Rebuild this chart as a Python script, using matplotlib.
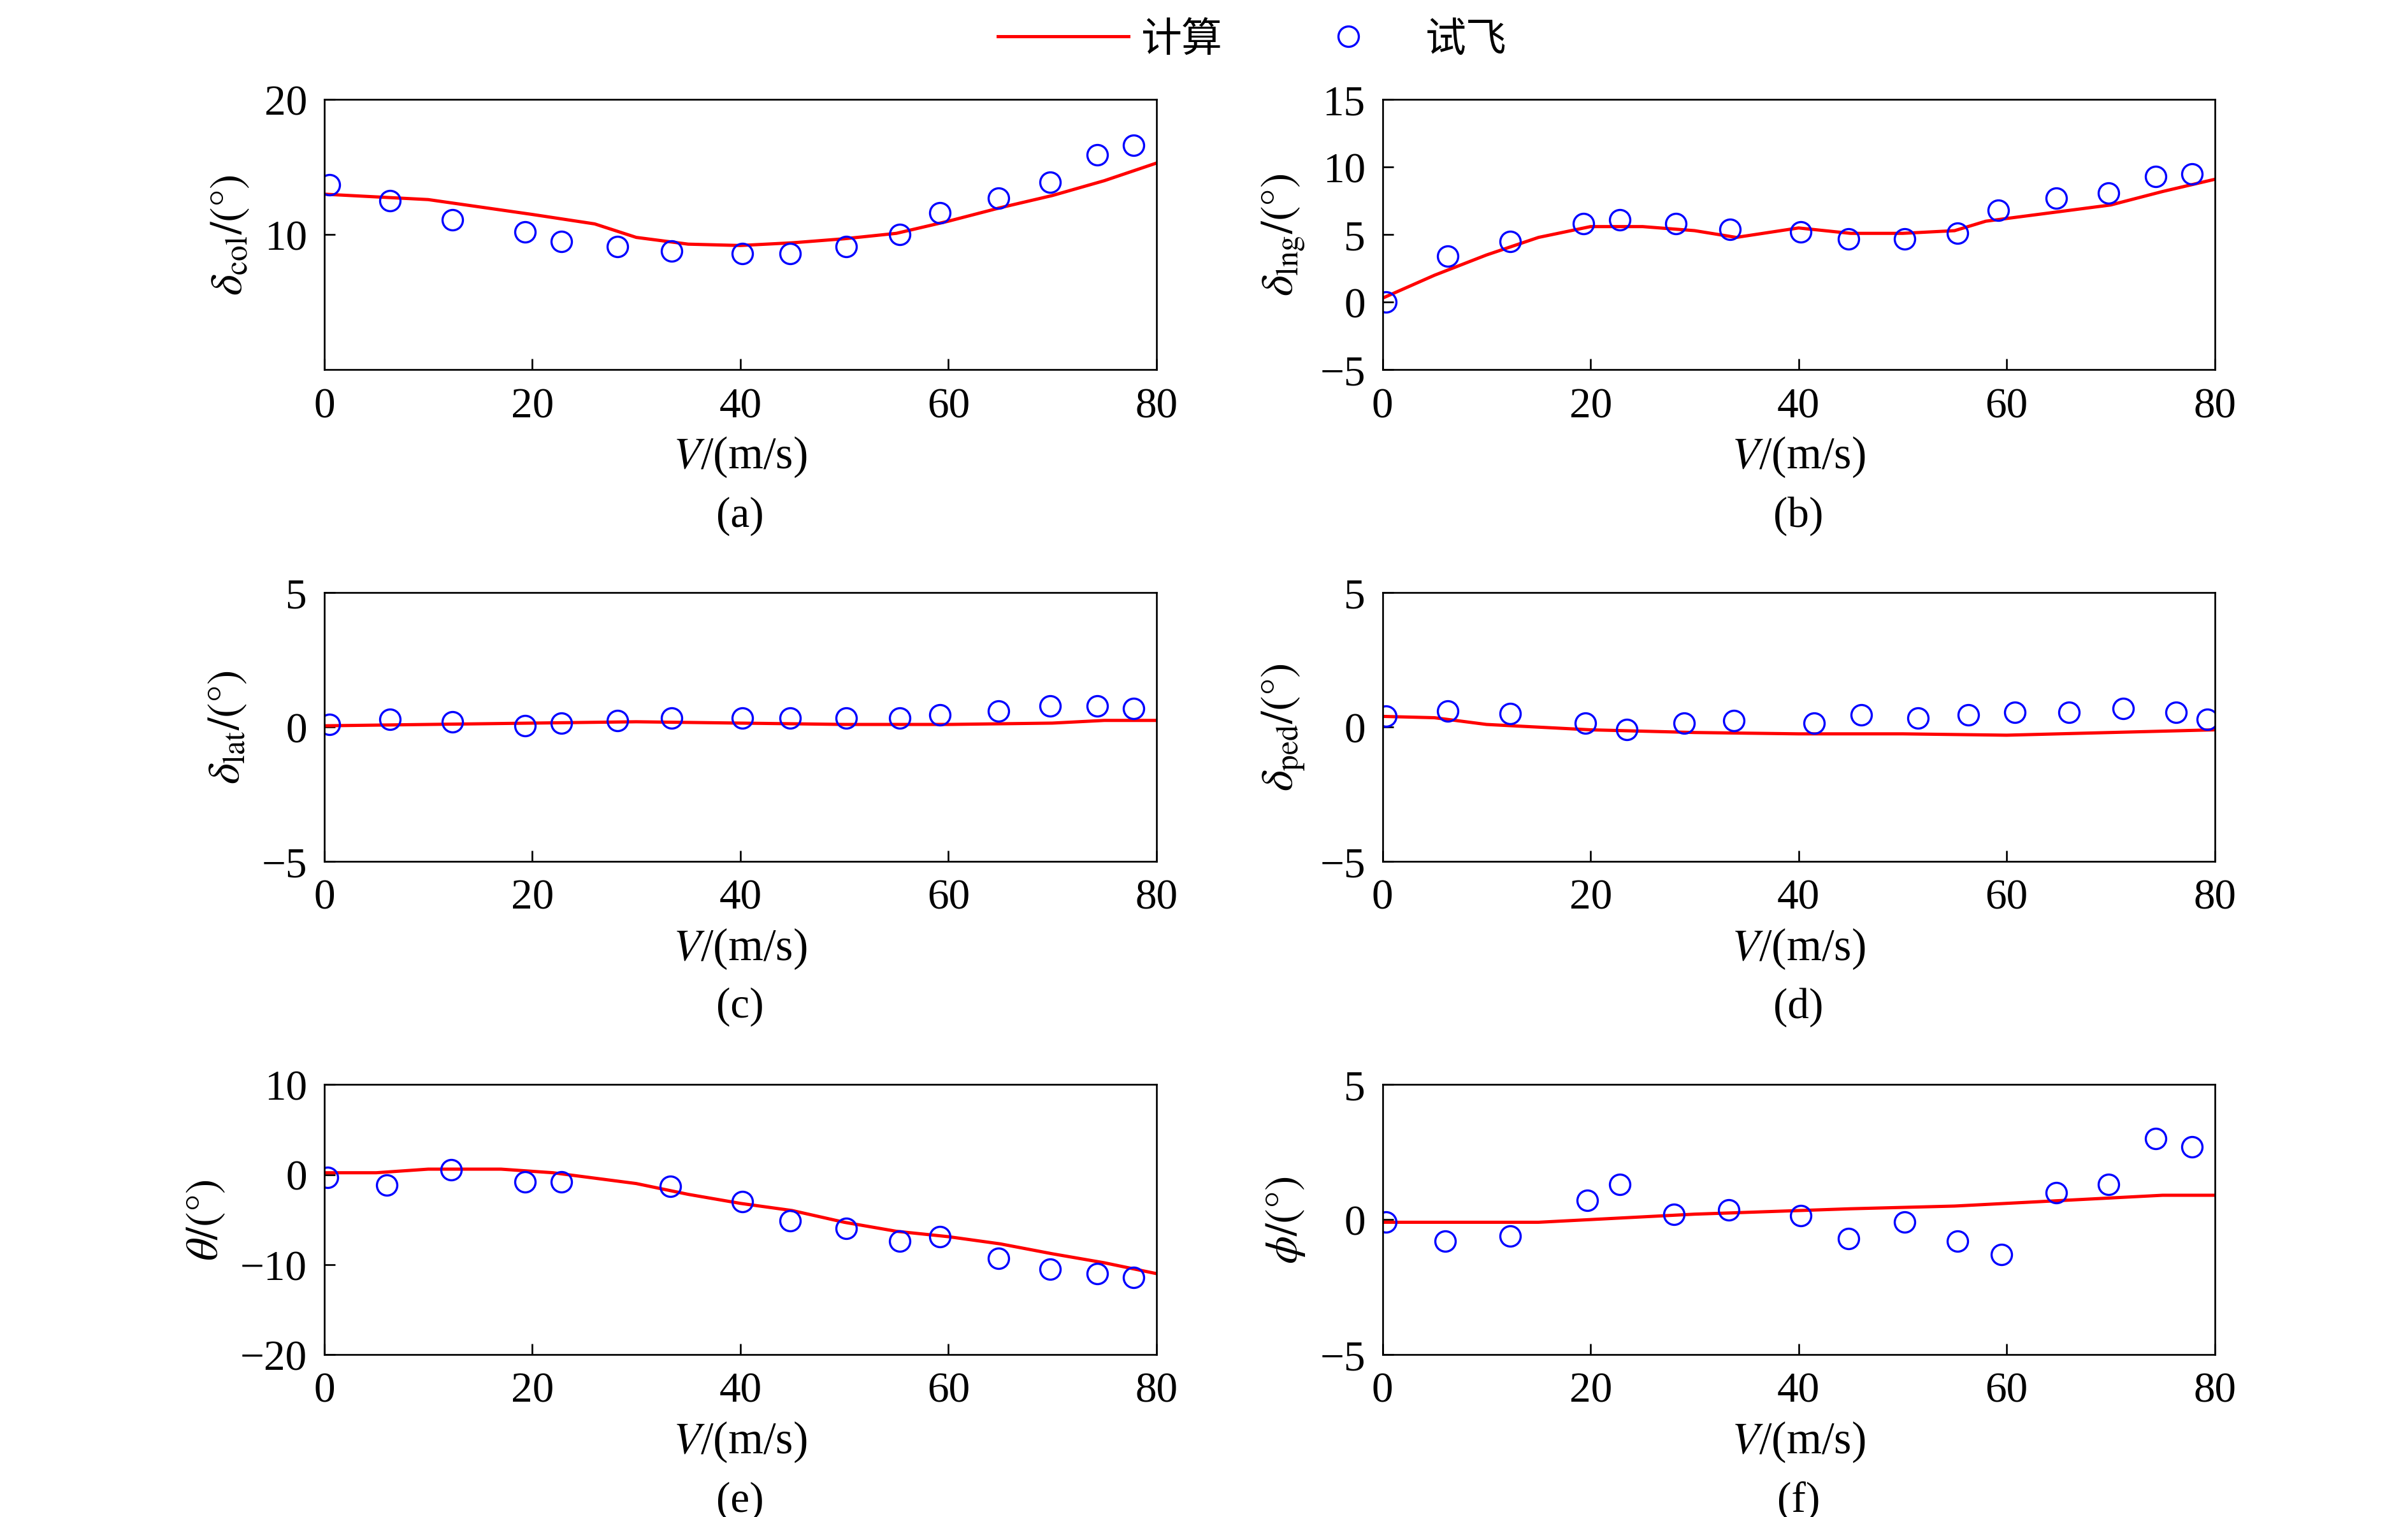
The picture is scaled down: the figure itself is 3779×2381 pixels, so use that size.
import numpy as np
import matplotlib.pyplot as plt
from matplotlib.lines import Line2D

plt.rcParams['font.family'] = ['Liberation Serif', 'Noto Sans CJK SC']
plt.rcParams['mathtext.fontset'] = 'stix'
plt.rcParams['font.size'] = 20

# (a) collective
a_lx = [0, 10, 20, 26, 30, 35, 40, 45, 50, 55, 60, 65, 70, 75, 80]
a_ly = [13, 12.6, 11.5, 10.8, 9.8, 9.3, 9.2, 9.4, 9.7, 10.1, 11, 12, 12.9, 14, 15.3]
a_px = [0.5, 6.3, 12.3, 19.3, 22.8, 28.2, 33.4, 40.2, 44.8, 50.2, 55.3, 59.2, 64.8, 69.8, 74.3, 77.8]
a_py = [13.7, 12.5, 11.1, 10.2, 9.5, 9.1, 8.8, 8.6, 8.6, 9.1, 10, 11.6, 12.7, 13.9, 15.9, 16.6]
# (b) longitudinal
b_lx = [0, 5, 10, 15, 20, 25, 30, 34, 40, 45, 50, 55, 58, 65, 70, 75, 80]
b_ly = [0.3, 2, 3.5, 4.8, 5.6, 5.6, 5.3, 4.8, 5.5, 5.1, 5.1, 5.3, 6, 6.7, 7.2, 8.2, 9.1]
b_px = [0.3, 6.3, 12.3, 19.3, 22.8, 28.2, 33.4, 40.2, 44.8, 50.2, 55.3, 59.2, 64.8, 69.8, 74.3, 77.8]
b_py = [0, 3.4, 4.5, 5.8, 6.1, 5.8, 5.4, 5.2, 4.7, 4.7, 5.1, 6.8, 7.7, 8.1, 9.3, 9.5]
# (c) lateral
c_lx = [0, 10, 20, 30, 40, 50, 60, 70, 75, 80]
c_ly = [0.05, 0.1, 0.15, 0.2, 0.15, 0.1, 0.1, 0.15, 0.25, 0.25]
c_px = [0.5, 6.3, 12.3, 19.3, 22.8, 28.2, 33.4, 40.2, 44.8, 50.2, 55.3, 59.2, 64.8, 69.8, 74.3, 77.8]
c_py = [0.1, 0.3, 0.2, 0.05, 0.15, 0.25, 0.35, 0.35, 0.35, 0.35, 0.35, 0.45, 0.6, 0.8, 0.8, 0.7]
# (d) pedal
d_lx = [0, 5, 10, 20, 30, 40, 50, 60, 70, 80]
d_ly = [0.4, 0.35, 0.1, -0.1, -0.2, -0.25, -0.25, -0.3, -0.2, -0.1]
d_px = [0.3, 6.3, 12.3, 19.5, 23.5, 29, 33.8, 41.5, 46, 51.5, 56.3, 60.8, 66, 71.2, 76.3, 79.3]
d_py = [0.4, 0.6, 0.5, 0.15, -0.1, 0.15, 0.25, 0.15, 0.45, 0.35, 0.45, 0.55, 0.55, 0.7, 0.55, 0.3]
# (e) pitch
e_lx = [0, 5, 10, 17, 22, 30, 35, 40, 45, 50, 55, 60, 65, 70, 75, 80]
e_ly = [0.2, 0.2, 0.6, 0.6, 0.2, -1, -2.2, -3.2, -4, -5.3, -6.3, -6.9, -7.7, -8.8, -9.8, -11]
e_px = [0.3, 6, 12.2, 19.3, 22.8, 33.3, 40.2, 44.8, 50.2, 55.3, 59.2, 64.8, 69.8, 74.3, 77.8]
e_py = [-0.3, -1.2, 0.5, -0.8, -0.8, -1.3, -3, -5.1, -6, -7.4, -6.9, -9.3, -10.5, -11, -11.4]
# (f) roll
f_lx = [0, 15, 30, 45, 55, 65, 75, 80]
f_ly = [-0.1, -0.1, 0.2, 0.4, 0.5, 0.7, 0.9, 0.9]
f_px = [0.3, 6, 12.3, 19.7, 22.8, 28, 33.3, 40.2, 44.8, 50.2, 55.3, 59.5, 64.8, 69.8, 74.3, 77.8]
f_py = [-0.1, -0.8, -0.6, 0.7, 1.3, 0.2, 0.35, 0.15, -0.7, -0.1, -0.8, -1.3, 1, 1.3, 3, 2.7]

panels = [
    (a_lx, a_ly, a_px, a_py, (0, 20), [10, 20], r'$\delta_{\mathrm{col}}/(°)$', '(a)'),
    (b_lx, b_ly, b_px, b_py, (-5, 15), [-5, 0, 5, 10, 15], r'$\delta_{\mathrm{lng}}/(°)$', '(b)'),
    (c_lx, c_ly, c_px, c_py, (-5, 5), [-5, 0, 5], r'$\delta_{\mathrm{lat}}/(°)$', '(c)'),
    (d_lx, d_ly, d_px, d_py, (-5, 5), [-5, 0, 5], r'$\delta_{\mathrm{ped}}/(°)$', '(d)'),
    (e_lx, e_ly, e_px, e_py, (-20, 10), [-20, -10, 0, 10], r'$\theta/(°)$', '(e)'),
    (f_lx, f_ly, f_px, f_py, (-5, 5), [-5, 0, 5], r'$\phi/(°)$', '(f)'),
]

fig = plt.figure(figsize=(15.6, 9.83), dpi=242.3)
lefts = [0.1346, 0.574]
rows = [(0.756, 0.178), (0.432, 0.177), (0.107, 0.178)]
for i, (lx, ly, px, py, ylim, yt, ylab, cap) in enumerate(panels):
    b, h = rows[i // 2]
    ax = fig.add_axes([lefts[i % 2], b, 0.3455, h])
    ax.plot(lx, ly, color='red', lw=1.5)
    ax.plot(px, py, 'o', mfc='none', mec='blue', ms=9.5, mew=1.0)
    ax.set_xlim(0, 80)
    ax.set_ylim(*ylim)
    ax.set_xticks([0, 20, 40, 60, 80])
    ax.set_yticks(yt)
    ax.set_yticklabels([str(v).replace('-', '−') for v in yt])
    ax.tick_params(direction='in', length=5, labelsize=20, pad=8)
    ax.set_ylabel(ylab, fontsize=21, labelpad=6)
    ax.set_xlabel(r'$V$/(m/s)', fontsize=21, labelpad=4)
    ax.text(0.5, -0.54, cap, transform=ax.transAxes, ha='center', va='center', fontsize=20)

handles = [Line2D([], [], color='red', lw=1.5),
           Line2D([], [], ls='none', marker='o', mfc='none', mec='blue', ms=9.5)]
fig.legend(handles, ['计算', '试飞'], loc='upper center', bbox_to_anchor=(0.52, 1.012),
           ncol=2, frameon=False, prop={'family': ['Noto Sans CJK SC'], 'size': 19},
           handlelength=3.2, columnspacing=1.5, handletextpad=0.3)
fig.savefig('out.png', dpi=242.3)
